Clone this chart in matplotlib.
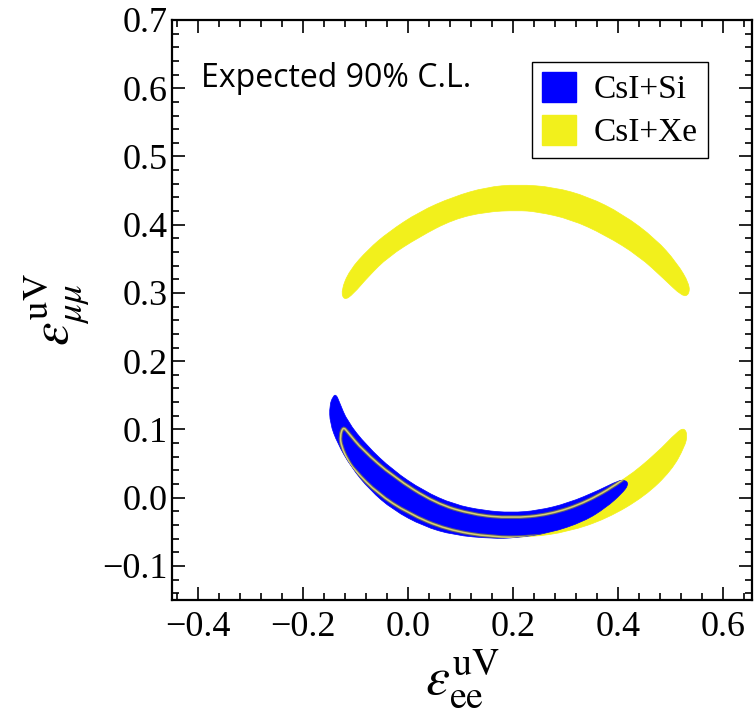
import matplotlib
matplotlib.use("Agg")
import matplotlib.pyplot as plt
import matplotlib.patheffects as pe
from matplotlib.patches import Patch, PathPatch
from matplotlib.path import Path
from matplotlib.ticker import MultipleLocator, FuncFormatter

plt.rcParams["font.family"] = "Liberation Serif"
plt.rcParams["mathtext.fontset"] = "stix"

# Colours
BLUE = "#0000ff"
YELLOW = "#f2f01c"

# CsI+Xe upper crescent outline (outer edge, then inner edge back)
xe_upper_x = [-0.128, -0.112, -0.076, -0.038, 0.021, 0.086, 0.149, 0.208, 0.278, 0.343,
              0.408, 0.472, 0.512, 0.536, 0.535,
              0.522, 0.488, 0.440, 0.375, 0.310, 0.246, 0.208, 0.149, 0.086, 0.021,
              -0.038, -0.076, -0.105, -0.122]
xe_upper_y = [0.303, 0.333, 0.364, 0.389, 0.419, 0.441, 0.455, 0.459, 0.455, 0.441,
              0.416, 0.379, 0.344, 0.313, 0.297,
              0.295, 0.320, 0.354, 0.385, 0.408, 0.419, 0.421, 0.419, 0.408, 0.382,
              0.353, 0.324, 0.298, 0.289]

# CsI+Xe lower crescent outline
xe_lower_x = [-0.124, -0.130, -0.127, -0.116, -0.102, -0.058, 0.000, 0.073, 0.160, 0.233,
              0.305, 0.378, 0.451, 0.502, 0.527, 0.532, 0.526,
              0.513, 0.473, 0.415, 0.342, 0.269, 0.196, 0.124, 0.051, -0.029, -0.087, -0.115]
xe_lower_y = [0.104, 0.090, 0.075, 0.056, 0.040, 0.006, -0.023, -0.047, -0.058, -0.058,
              -0.050, -0.031, 0.002, 0.040, 0.075, 0.092, 0.102,
              0.097, 0.065, 0.028, -0.006, -0.025, -0.030, -0.025, -0.008, 0.031, 0.070, 0.096]

# CsI+Si crescent outline
si_x = [-0.143, -0.150, -0.149, -0.135, -0.109, -0.073, -0.029, 0.029, 0.087, 0.160,
        0.204, 0.269, 0.335, 0.378, 0.407, 0.420, 0.414,
        0.400, 0.364, 0.305, 0.247, 0.196, 0.145, 0.087, 0.029, -0.029, -0.080, -0.116,
        -0.131, -0.137]
si_y = [0.149, 0.135, 0.109, 0.080, 0.045, 0.011, -0.018, -0.042, -0.055, -0.060,
        -0.059, -0.052, -0.035, -0.014, 0.006, 0.019, 0.026,
        0.025, 0.011, -0.008, -0.019, -0.022, -0.019, -0.010, 0.010, 0.040, 0.077, 0.112,
        0.140, 0.151]

labels = ["CsI+Si", "CsI+Xe"]


def smooth_path(xs, ys):
    # closed path through the midpoints, outline points used as bezier controls
    pts = list(zip(xs, ys))
    n = len(pts)
    mid = lambda a, b: ((a[0] + b[0]) / 2, (a[1] + b[1]) / 2)
    verts = [mid(pts[0], pts[1])]
    codes = [Path.MOVETO]
    for i in range(1, n + 1):
        verts += [pts[i % n], mid(pts[i % n], pts[(i + 1) % n])]
        codes += [Path.CURVE3, Path.CURVE3]
    return Path(verts, codes)


fig = plt.figure(figsize=(7.56, 7.21), dpi=100)
ax = fig.add_axes([0.2275, 0.1678, 0.7672, 0.8045])

ax.add_patch(PathPatch(smooth_path(xe_upper_x, xe_upper_y), fc=YELLOW, ec=YELLOW, lw=0.5))
ax.add_patch(PathPatch(smooth_path(xe_lower_x, xe_lower_y), fc=YELLOW, ec=YELLOW, lw=0.5))
si_patch = PathPatch(smooth_path(si_x, si_y), fc=BLUE, ec=BLUE, lw=0.5)
ax.add_patch(si_patch)

# CsI+Xe boundary seen through the CsI+Si region
xe_line = PathPatch(smooth_path(xe_lower_x, xe_lower_y), fc="none", ec="#d8d070", lw=1.1,
                    path_effects=[pe.Stroke(linewidth=2.6, foreground="#606070"), pe.Normal()])
ax.add_patch(xe_line)
xe_line.set_clip_path(si_patch)

ax.set_xlim(-0.45, 0.655)
ax.set_ylim(-0.15, 0.7)

fmt = FuncFormatter(lambda v, p: f"{v:.1f}".replace("-", "\u2212"))
ax.xaxis.set_major_locator(MultipleLocator(0.2))
ax.xaxis.set_minor_locator(MultipleLocator(0.04))
ax.yaxis.set_major_locator(MultipleLocator(0.1))
ax.yaxis.set_minor_locator(MultipleLocator(0.02))
ax.xaxis.set_major_formatter(fmt)
ax.yaxis.set_major_formatter(fmt)
ax.tick_params(which="both", direction="in", top=True, right=True, width=1.2)
ax.tick_params(which="major", length=9.5, labelsize=26)
ax.tick_params(axis="x", which="major", pad=8)
ax.tick_params(axis="y", which="major", pad=3)
ax.tick_params(which="minor", length=5)
for s in ax.spines.values():
    s.set_linewidth(1.6)

ax.set_xlabel(r"$\varepsilon_{\mathrm{ee}}^{\mathrm{uV}}$", fontsize=39, labelpad=2)
ax.set_ylabel(r"$\varepsilon_{\mu\mu}^{\mathrm{uV}}$", fontsize=38, labelpad=8)

ax.text(-0.394, 0.614, "Expected 90% C.L.", fontsize=23, family="Open Sans",
        va="center", ha="left")

handles = [Patch(fc=BLUE, ec=BLUE), Patch(fc=YELLOW, ec=YELLOW)]
ax.legend(handles, labels, loc="upper right", bbox_to_anchor=(0.924, 0.928),
          fontsize=24, frameon=True, fancybox=False, edgecolor="black",
          handlelength=1.0, handleheight=1.0, handletextpad=0.55,
          borderpad=0.3, labelspacing=0.3, borderaxespad=0, framealpha=1)

fig.savefig("out.png", dpi=100)
